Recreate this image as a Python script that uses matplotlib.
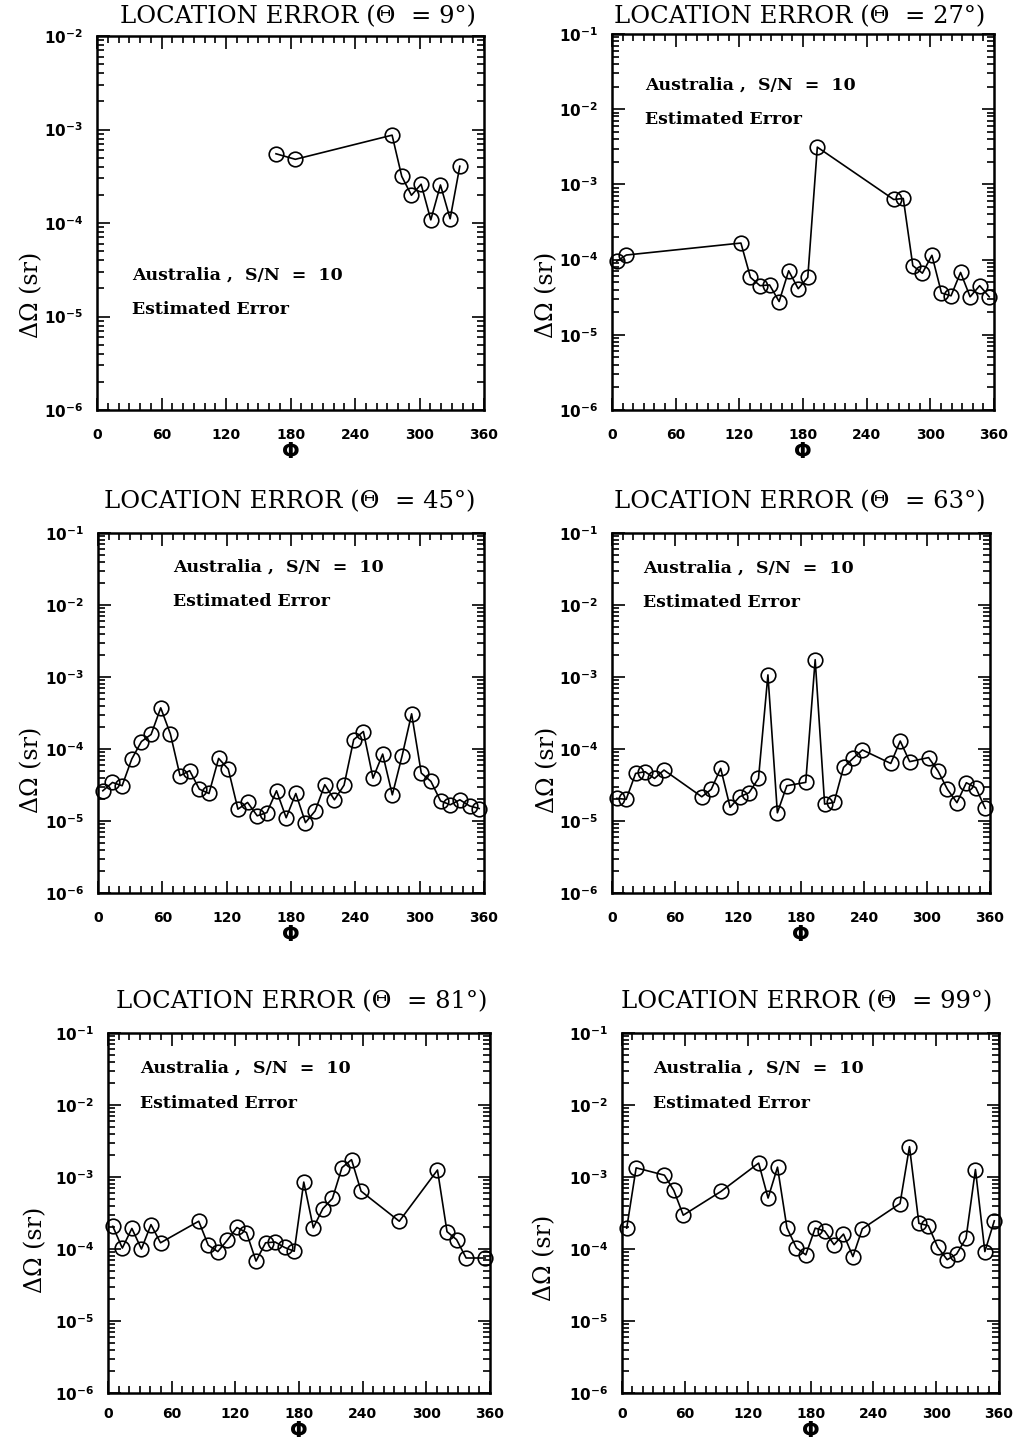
import matplotlib
matplotlib.use("Agg")
import matplotlib.pyplot as plt
from matplotlib.ticker import LogLocator, FixedLocator, NullFormatter, FuncFormatter
import numpy as np

# ---------------- data ----------------
titles = ["LOCATION ERROR (\u0398  = 9\u00b0)", "LOCATION ERROR (\u0398  = 27\u00b0)",
          "LOCATION ERROR (\u0398  = 45\u00b0)", "LOCATION ERROR (\u0398  = 63\u00b0)",
          "LOCATION ERROR (\u0398  = 81\u00b0)", "LOCATION ERROR (\u0398  = 99\u00b0)"]
annot_line1 = "Australia ,  S/N  =  10"
annot_line2 = "Estimated Error"
x_ticks = [0, 60, 120, 180, 240, 300, 360]
x_ticklabels = ["0", "60", "120", "180", "240", "300", "360"]

phi_09 = [166.5, 184.5, 274.5, 283.5, 292.5, 301.5, 310.5, 319.5, 328.5, 337.5]
err_09 = [5.5e-4, 4.8e-4, 8.7e-4, 3.15e-4, 1.98e-4, 2.6e-4, 1.08e-4, 2.55e-4, 1.11e-4, 4.05e-4]

phi_27 = [4.5, 13.5, 121.5, 130.5, 139.5, 148.5, 157.5, 166.5, 175.5, 184.5, 193.5,
          265.5, 274.5, 283.5, 292.5, 301.5, 310.5, 319.5, 328.5, 337.5, 346.5, 355.5]
err_27 = [9.5e-5, 1.15e-4, 1.66e-4, 5.8e-5, 4.5e-5, 4.6e-5, 2.77e-5, 7.1e-5, 4.1e-5, 5.8e-5, 3.13e-3,
          6.3e-4, 6.5e-4, 8.3e-5, 6.6e-5, 1.14e-4, 3.6e-5, 3.3e-5, 6.75e-5, 3.2e-5, 4.5e-5, 3.2e-5]

phi_45 = [4.5, 13.5, 22.5, 31.5, 40.5, 49.5, 58.5, 67.5, 76.5, 85.5,
          94.5, 103.5, 112.5, 121.5, 130.5, 139.5, 148.5, 157.5, 166.5, 175.5,
          184.5, 193.5, 202.5, 211.5, 220.5, 229.5, 238.5, 247.5, 256.5, 265.5,
          274.5, 283.5, 292.5, 301.5, 310.5, 319.5, 328.5, 337.5, 346.5, 355.5]
err_45 = [2.63e-5, 3.43e-5, 3.09e-5, 7.26e-5, 1.27e-4, 1.59e-4, 3.73e-4, 1.62e-4, 4.26e-5, 5.0e-5,
          2.77e-5, 2.41e-5, 7.4e-5, 5.26e-5, 1.46e-5, 1.81e-5, 1.18e-5, 1.31e-5, 2.63e-5, 1.11e-5,
          2.41e-5, 9.5e-6, 1.38e-5, 3.19e-5, 1.97e-5, 3.15e-5, 1.35e-4, 1.75e-4, 3.94e-5, 8.5e-5,
          2.31e-5, 7.9e-5, 3.08e-4, 4.63e-5, 3.55e-5, 1.9e-5, 1.68e-5, 1.97e-5, 1.62e-5, 1.49e-5]

phi_63 = [4.5, 13.5, 22.5, 31.5, 40.5, 49.5, 85.5, 94.5, 103.5, 112.5, 121.5, 130.5, 139.5,
          148.5, 157.5, 166.5, 184.5, 193.5, 202.5, 211.5, 220.5, 229.5, 238.5, 265.5, 274.5,
          283.5, 301.5, 310.5, 319.5, 328.5, 337.5, 346.5, 355.5]
err_63 = [2.06e-5, 2.0e-5, 4.58e-5, 4.84e-5, 3.9e-5, 5.1e-5, 2.17e-5, 2.75e-5, 5.38e-5, 1.55e-5,
          2.17e-5, 2.47e-5, 3.9e-5, 1.07e-3, 1.3e-5, 3.09e-5, 3.44e-5, 1.74e-3, 1.72e-5, 1.81e-5,
          5.55e-5, 7.4e-5, 9.7e-5, 6.3e-5, 1.29e-4, 6.67e-5, 7.6e-5, 4.95e-5, 2.75e-5, 1.8e-5,
          3.4e-5, 2.9e-5, 1.5e-5]

phi_81 = [4.5, 13.5, 22.5, 31.5, 40.5, 49.5, 85.5, 94.5, 103.5, 112.5, 121.5, 130.5, 139.5,
          148.5, 157.5, 166.5, 175.5, 184.5, 193.5, 202.5, 211.5, 220.5, 229.5, 238.5, 274.5,
          310.5, 319.5, 328.5, 337.5, 355.5]
err_81 = [2.07e-4, 1.03e-4, 1.93e-4, 1.0e-4, 2.18e-4, 1.22e-4, 2.43e-4, 1.13e-4, 9.2e-5, 1.33e-4,
          1.99e-4, 1.69e-4, 6.8e-5, 1.22e-4, 1.25e-4, 1.05e-4, 9.3e-5, 8.5e-4, 1.97e-4, 3.64e-4,
          5.03e-4, 1.35e-3, 1.74e-3, 6.35e-4, 2.43e-4, 1.25e-3, 1.74e-4, 1.35e-4, 7.5e-5, 7.5e-5]

phi_99 = [4.5, 13.5, 40.5, 49.5, 58.5, 94.5, 130.5, 139.5, 148.5, 157.5, 166.5, 175.5, 184.5,
          193.5, 202.5, 211.5, 220.5, 229.5, 265.5, 274.5, 283.5, 292.5, 301.5, 310.5, 319.5,
          328.5, 337.5, 346.5, 355.5]
err_99 = [1.95e-4, 1.34e-3, 1.06e-3, 6.5e-4, 2.95e-4, 6.3e-4, 1.56e-3, 5.1e-4, 1.37e-3, 1.97e-4,
          1.04e-4, 8.3e-5, 1.95e-4, 1.78e-4, 1.15e-4, 1.61e-4, 7.85e-5, 1.91e-4, 4.28e-4, 2.64e-3,
          2.27e-4, 2.11e-4, 1.06e-4, 7.1e-5, 8.5e-5, 1.41e-4, 1.27e-3, 9.2e-5, 2.46e-4]

series = [(phi_09, err_09), (phi_27, err_27), (phi_45, err_45),
          (phi_63, err_63), (phi_81, err_81), (phi_99, err_99)]
ylims = [(1e-6, 1e-2), (1e-6, 1e-1), (1e-6, 1e-1), (1e-6, 1e-1), (1e-6, 1e-1), (1e-6, 1e-1)]

# ---------------- layout (pixels) ----------------
W, H = 1014, 1445
boxes = [(97, 36, 484, 410), (612, 34, 994, 410),
         (98, 533, 484, 893), (612, 533, 990, 893),
         (108, 1033, 490, 1393), (622, 1033, 999, 1393)]
title_pos = [(298, 17), (800, 17), (290, 502), (800, 502), (302, 1002), (807, 1002)]
annot_pos = [(132, 275), (645, 85), (173, 567), (643, 568), (140, 1068), (653, 1068)]
ylab_pos = [(32, 295), (547, 295), (32, 770), (548, 770), (36, 1250), (545, 1258)]
tick_pad = [13, 13, 13, 13, 10, 10]

fig = plt.figure(figsize=(W / 100, H / 100), dpi=100)

def fx(x):
    return x / W

def fy(y):
    return 1 - y / H

serif = "DejaVu Serif"

def fmt_y(v, pos):
    e = int(round(np.log10(v)))
    return r"$\mathbf{10^{%d}}$" % e

for i in range(6):
    x0, y0, x1, y1 = boxes[i]
    ax = fig.add_axes([fx(x0), fy(y1), (x1 - x0) / W, (y1 - y0) / H])
    phi, err = series[i]
    ax.plot(phi, err, color="black", lw=1.2, marker="o", ms=10.5,
            mfc="none", mec="black", mew=1.2, clip_on=False, zorder=3)
    ax.set_yscale("log")
    ax.set_ylim(*ylims[i])
    ax.set_xlim(0, 360)
    ax.xaxis.set_major_locator(FixedLocator(x_ticks))
    ax.set_xticklabels(x_ticklabels, fontweight="bold", fontsize=10, family="DejaVu Sans")
    ax.xaxis.set_minor_locator(FixedLocator(list(range(0, 361, 10))))
    ax.yaxis.set_major_locator(LogLocator(base=10, numticks=10))
    ax.yaxis.set_minor_locator(LogLocator(base=10, subs=np.arange(2, 10), numticks=50))
    ax.yaxis.set_major_formatter(FuncFormatter(fmt_y))
    ax.yaxis.set_minor_formatter(NullFormatter())
    ax.tick_params(which="both", direction="in", top=True, right=True, width=1.2, colors="black")
    ax.tick_params(which="major", length=9)
    ax.tick_params(which="minor", length=5)
    ax.tick_params(axis="x", which="major", pad=tick_pad[i])
    ax.tick_params(axis="y", which="major", pad=10, labelsize=11)
    for s in ax.spines.values():
        s.set_linewidth(1.8)
    ax.set_xlabel("\u03a6", fontsize=15, fontweight="bold", labelpad=0)

    tx, ty = title_pos[i]
    fig.text(fx(tx), fy(ty), titles[i], ha="center", va="center",
             fontsize=17.5, family=serif)
    lx, ly = ylab_pos[i]
    fig.text(fx(lx), fy(ly), "\u0394\u03a9 (sr)", rotation=90,
             ha="center", va="center", fontsize=17, family=serif)
    axx, axy = annot_pos[i]
    fig.text(fx(axx), fy(axy), annot_line1, ha="left", va="center",
             fontsize=12.5, fontweight="bold", family=serif)
    fig.text(fx(axx), fy(axy + 35), annot_line2, ha="left", va="center",
             fontsize=12.5, fontweight="bold", family=serif)

fig.savefig("out.png", dpi=100, facecolor="white")
